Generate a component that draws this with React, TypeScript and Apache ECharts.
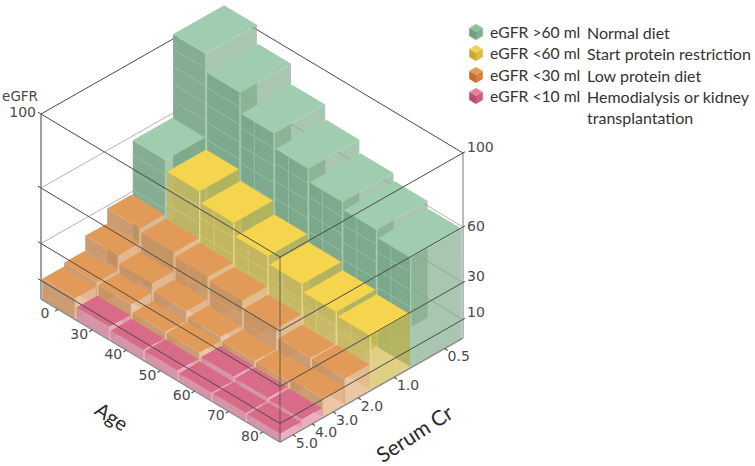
import React, { useEffect, useRef } from "react";
import * as echarts from "echarts";

// ---- data ----
const ageLabels = ["0", "30", "40", "50", "60", "70", "80"];
const crLabels = ["0.5", "1.0", "2.0", "3.0", "4.0", "5.0"];
const egfrTicks = [10, 30, 60, 100];

const egfrCr05 = [103, 93, 82, 74, 67, 63, 59];
const egfrCr10 = [58, 52, 46, 39, 35, 31, 29];
const egfrCr20 = [29, 27, 25, 23, 19, 14, 14];
const egfrCr30 = [21, 17, 13, 10, 8, 8, 10];
const egfrCr40 = [13, 12, 8, 8, 6, 5.5, 5];
const egfrCr50 = [11, 6.5, 5, 5, 4, 4, 4];

const stageCr05 = [0, 0, 0, 0, 0, 0, 0];
const stageCr10 = [0, 1, 1, 1, 1, 1, 1];
const stageCr20 = [2, 2, 2, 2, 2, 2, 2];
const stageCr30 = [2, 2, 2, 2, 2, 2, 2];
const stageCr40 = [2, 2, 2, 2, 3, 3, 3];
const stageCr50 = [2, 3, 3, 3, 3, 3, 3];

const legendLeft = ["eGFR >60 ml", "eGFR <60 ml", "eGFR <30 ml", "eGFR <10 ml"];
const legendRight = ["Normal diet", "Start protein restriction", "Low protein diet", "Hemodialysis or kidney", "transplantation"];

// ---- projection and styling ----
const rowsV = [egfrCr05, egfrCr10, egfrCr20, egfrCr30, egfrCr40, egfrCr50];
const rowsS = [stageCr05, stageCr10, stageCr20, stageCr30, stageCr40, stageCr50];
const CR_EDGES = [0, 0.285, 0.505, 0.645, 0.765, 0.88, 1];
const CR_TICKS = [0.1, 0.377, 0.574, 0.71, 0.825, 0.93];
const BACK = [224, 195];
const AGE_STEP = [239 / 7, 143 / 7];
const CR_VEC = [-183, 104];
const H_SCALE = 1.85;
const TICK_LABEL_DY: Record<number, number> = { 10: -7.5, 30: -6.5, 60: -1, 100: -6 };

const project = (u: number, v: number, h: number): [number, number] => [
  BACK[0] + u * AGE_STEP[0] + v * CR_VEC[0],
  BACK[1] + u * AGE_STEP[1] + v * CR_VEC[1] - h * H_SCALE,
];

const STYLES = [
  { top: "#a0cdb0", vf: "rgba(122,166,137,0.92)", uf: "rgba(125,170,135,0.66)", line: "#9cc3a8", edge: "#a6cbb2" },
  { top: "#f5d44e", vf: "rgba(196,182,98,0.9)", uf: "rgba(207,183,70,0.66)", line: "#d6c87e", edge: "#e4d68a" },
  { top: "#e29a58", vf: "rgba(196,142,94,0.88)", uf: "rgba(232,188,148,0.85)", line: "#d8a272", edge: "#e2b58c" },
  { top: "#d86c88", vf: "rgba(208,136,158,0.9)", uf: "rgba(232,160,180,0.85)", line: "#dd9cae", edge: "#e4a0b4" },
];

const barData: number[][] = [];
ageLabels.forEach((_, k) => {
  crLabels.forEach((__, r) => {
    barData.push([k, r, rowsV[r][k], rowsS[r][k]]);
  });
});

const INSET_U = 0.02;
const INSET_V = 0.003;

function renderBar(params: any, api: any) {
  const k = api.value(0);
  const r = api.value(1);
  const val = api.value(2);
  const st = STYLES[api.value(3)];
  const u0 = k + INSET_U;
  const u1 = k + 1 - INSET_U;
  const v0 = CR_EDGES[r] + INSET_V;
  const v1 = CR_EDGES[r + 1] - INSET_V;
  const pt = (u: number, v: number, h: number) => api.coord(project(u, v, h));
  const poly = (points: number[][], fill: string) => ({
    type: "polygon",
    shape: { points },
    style: { fill, stroke: "none" },
  });
  const seg = (a: number[], b: number[], stroke: string, w = 1) => ({
    type: "line",
    shape: { x1: a[0], y1: a[1], x2: b[0], y2: b[1] },
    style: { stroke, lineWidth: w },
  });
  const children: any[] = [];
  children.push(poly([pt(u1, v1, val), pt(u1, v0, val), pt(u1, v0, 0), pt(u1, v1, 0)], st.uf));
  children.push(poly([pt(u0, v1, val), pt(u1, v1, val), pt(u1, v1, 0), pt(u0, v1, 0)], st.vf));
  for (let h = val - 8; h > 0; h -= 9.4) {
    children.push(seg(pt(u0, v1, h), pt(u1, v1, h), st.line, 0.8));
  }
  if (val >= 25 && k >= 2) {
    const um = (u0 + u1) / 2 - 0.1;
    children.push(seg(pt(um, v1, val), pt(um, v1, 0), st.line, 0.8));
  }
  children.push(seg(pt(u1, v1, val), pt(u1, v1, 0), st.edge, val >= 25 ? 1.5 : 0.8));
  children.push(poly([pt(u0, v1, val), pt(u0, v0, val), pt(u1, v0, val), pt(u1, v1, val)], st.top));
  return { type: "group", children };
}

const frameLines = (front: boolean) => (params: any, api: any) => {
  const children: any[] = [];
  const L = (u: number, v: number, h: number) => api.coord(project(u, v, h));
  const seg = (a: number[], b: number[], stroke: string, w: number) => ({
    type: "line",
    shape: { x1: a[0], y1: a[1], x2: b[0], y2: b[1] },
    style: { stroke, lineWidth: w },
  });
  const h = api.value(0);
  const isTop = h === 100;
  if (front) {
    const a = L(0, 1, h);
    children.push(seg([a[0] - 3, a[1] - 1.8], L(7, 1, h), "#4a4a4a", 1));
    const b = L(7, 0, h);
    children.push(seg(L(7, 1, h), [b[0] + 2, b[1] - 1.2], "#4a4a4a", 1));
  } else {
    const col = isTop ? "#4a4a4a" : "#b4b4b4";
    children.push(seg(L(0, 1, h), L(0, 0, h), col, 1));
    children.push(seg(L(0, 0, h), L(7, 0, h), col, 1));
  }
  return { type: "group", children };
};

const drawFloor = (params: any, api: any) => {
  const L = (u: number, v: number, h: number) => api.coord(project(u, v, h));
  const seg = (a: number[], b: number[], stroke: string, w: number) => ({
    type: "line",
    shape: { x1: a[0], y1: a[1], x2: b[0], y2: b[1] },
    style: { stroke, lineWidth: w },
  });
  const children: any[] = [
    seg(L(0, 1, 0), L(0, 1, 100), "#a0a0a0", 2),
    seg(L(7, 0, 0), L(7, 0, 100), "#777777", 1),
    seg(L(0, 1, 0), L(7, 1, 0), "#8c8c8c", 1.5),
    seg(L(7, 1, 0), L(7, 0, 0), "#8c8c8c", 1.5),
  ];
  ageLabels.forEach((_, k) => {
    const p = L(k + 0.5, 1, 0);
    children.push(seg(p, [p[0] - 3, p[1] + 2], "#555", 1.2));
  });
  CR_TICKS.forEach((t) => {
    const p = L(7, t, 0);
    children.push(seg(p, [p[0] + 3, p[1] + 2], "#555", 1.2));
  });
  return { type: "group", children };
};

const drawFrontPost = (params: any, api: any) => {
  const a = api.coord(project(7, 1, 0));
  const b = api.coord(project(7, 1, 100));
  return {
    type: "line",
    shape: { x1: a[0], y1: a[1], x2: b[0], y2: b[1] },
    style: { stroke: "rgba(90,80,70,0.55)", lineWidth: 1.5 },
  };
};

const AXIS_FONT = '"DejaVu Sans", sans-serif';
const CAP_FONT = 'Lato, "Open Sans", sans-serif';

const txt = (x: number, y: number, text: string, font: number, extra: any = {}) => ({
  type: "text",
  x,
  y,
  z: 20,
  style: {
    text,
    fill: extra.fill || "#4a4a4a",
    font: `${font}px ${extra.family || AXIS_FONT}`,
    align: extra.align || "center",
    verticalAlign: "middle",
  },
  rotation: extra.rotation || 0,
});

const LEGEND_COLORS = [
  ["#8cc09c", "#6ea27f", "#7bb08a"],
  ["#efd35a", "#c9aa2e", "#dcbc3c"],
  ["#e39a55", "#c0702c", "#d28238"],
  ["#e27f9b", "#b94f6d", "#cc5f7e"],
];

function cube(cx: number, cy: number, c: string[]) {
  const r = 8;
  const w = 6.8;
  const mk = (points: number[][], fill: string) => ({ type: "polygon", z: 20, shape: { points }, style: { fill } });
  return [
    mk([[cx - w, cy - r / 2], [cx, cy - r], [cx + w, cy - r / 2], [cx, cy]], c[0]),
    mk([[cx - w, cy - r / 2], [cx, cy], [cx, cy + r], [cx - w, cy + r / 2]], c[1]),
    mk([[cx + w, cy - r / 2], [cx, cy], [cx, cy + r], [cx + w, cy + r / 2]], c[2]),
  ];
}

function buildGraphics() {
  const g: any[] = [];
  ageLabels.forEach((t, k) => {
    const p = project(k + 0.5, 1, 0);
    g.push(txt(p[0] - 13, p[1] + 4, t, 14));
  });
  CR_TICKS.forEach((t, i) => {
    const p = project(7, t, 0);
    g.push(txt(p[0] + 14, p[1] + 8, crLabels[i], 14));
  });
  egfrTicks.forEach((v) => {
    const p = project(7, 0, v);
    g.push(txt(p[0] + 4, p[1] + TICK_LABEL_DY[v], String(v), 14, { align: "left" }));
  });
  g.push(txt(36, 112, "100", 14, { align: "right" }));
  g.push(txt(38, 96, "eGFR", 13.5, { align: "right" }));
  g.push(txt(112, 416, "Age", 20, { rotation: -0.58, family: CAP_FONT, fill: "#2a2a2a" }));
  g.push(txt(414, 433, "Serum Cr", 21, { rotation: 0.57, family: CAP_FONT, fill: "#2a2a2a" }));
  const ys = [32, 53, 75, 96, 117];
  legendLeft.forEach((t, i) => {
    g.push(...cube(476, ys[i], LEGEND_COLORS[i]));
    g.push(txt(490, ys[i], t, 15.7, { align: "left", family: CAP_FONT, fill: "#333" }));
  });
  legendRight.forEach((t, i) => {
    g.push(txt(587, ys[i], t, 16, { align: "left", family: CAP_FONT, fill: "#333" }));
  });
  return g;
}

export default function App() {
  const ref = useRef<HTMLDivElement>(null);
  useEffect(() => {
    document.body.style.margin = "0";
    const chart = echarts.init(ref.current!, undefined, { renderer: "svg" });
    const common = { type: "custom", coordinateSystem: "cartesian2d", clip: false, silent: true };
    chart.setOption({
      animation: false,
      backgroundColor: "#fff",
      grid: { left: 0, right: 0, top: 0, bottom: 0 },
      xAxis: { type: "value", min: 0, max: 755, show: false },
      yAxis: { type: "value", min: 0, max: 466, inverse: true, show: false },
      graphic: { elements: buildGraphics() },
      series: [
        { ...common, name: "floor", z: 1, renderItem: drawFloor, data: [[0]] },
        { ...common, name: "back", z: 2, renderItem: frameLines(false), data: egfrTicks.map((v) => [v]) },
        { ...common, name: "eGFR", z: 3, renderItem: renderBar, data: barData },
        { ...common, name: "post", z: 4, renderItem: drawFrontPost, data: [[0]] },
        { ...common, name: "front", z: 5, renderItem: frameLines(true), data: egfrTicks.map((v) => [v]) },
      ],
    });
    return () => chart.dispose();
  }, []);
  return <div ref={ref} style={{ width: 755, height: 466 }} />;
}
